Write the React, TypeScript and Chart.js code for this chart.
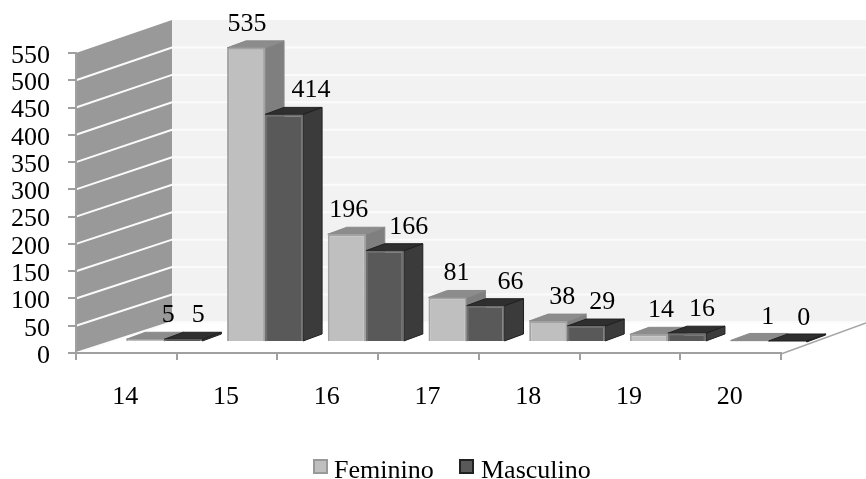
import React, { useEffect, useRef } from "react";
import { Chart, registerables } from "chart.js";

Chart.register(...registerables);

const categories = ["14", "15", "16", "17", "18", "19", "20"];
const feminino = [5, 535, 196, 81, 38, 14, 1];
const masculino = [5, 414, 166, 66, 29, 16, 0];
const seriesNames = ["Feminino", "Masculino"];
const yMax = 550;
const yStep = 50;

const FONT = '"Liberation Serif", "Times New Roman", serif';
const SIZE = 26;
// projection of the bar plane into the fake-3D room
const K = 1.008;
const BAR_DX = 38;
const BAR_DY = 342 - 353 * K;
const DEPTH_X = 19;
const DEPTH_Y = 7;
const BACK_X = 172;
const labelNudge = [
  [23, 15],
  [1, 27],
  [2, 24],
  [9, 25],
  [14, 16],
  [12, 15],
  [18, 16],
];
const styles = [
  { front: "#bfbfbf", border: "#a3a3a3", top: "#8c8c8c", side: "#7f7f7f", edge: "#8a8a8a" },
  { front: "#595959", border: "#6e6e6e", top: "#2f2f2f", side: "#3b3b3b", edge: "#1f1f1f" },
];

const poly = (ctx: CanvasRenderingContext2D, pts: number[][], fill: string, stroke?: string, lw = 1) => {
  ctx.beginPath();
  pts.forEach(([x, y], i) => (i ? ctx.lineTo(x, y) : ctx.moveTo(x, y)));
  ctx.closePath();
  ctx.fillStyle = fill;
  ctx.fill();
  if (stroke) {
    ctx.strokeStyle = stroke;
    ctx.lineWidth = lw;
    ctx.stroke();
  }
};

const room3d = {
  id: "room3d",
  beforeDraw(chart: any) {
    const { ctx, scales, chartArea, width } = chart;
    const y = scales.y;
    const left = chartArea.left;
    const right = chartArea.right;
    const yFront = (v: number) => y.getPixelForValue(v);
    const yBack = (v: number) => 322 - (322 - 20) * (v / yMax);
    ctx.save();
    // back wall
    poly(ctx, [[BACK_X, yBack(yMax)], [width, yBack(yMax)], [width, yBack(0)], [BACK_X, yBack(0)]], "#f2f2f2");
    // left wall
    poly(ctx, [[left, yFront(yMax)], [BACK_X, yBack(yMax)], [BACK_X, yBack(0)], [left, yFront(0)]], "#999999");
    ctx.strokeStyle = "#fbfbfb";
    ctx.lineWidth = 2;
    for (let v = 0; v < yMax; v += yStep) {
      ctx.beginPath();
      ctx.moveTo(left, yFront(v));
      ctx.lineTo(BACK_X, yBack(v));
      ctx.lineTo(width, yBack(v));
      ctx.stroke();
    }
    // floor edge on the right
    ctx.strokeStyle = "#a6a6a6";
    ctx.lineWidth = 1.5;
    ctx.beginPath();
    ctx.moveTo(right, yFront(0) + 1);
    ctx.lineTo(width, yBack(0) + 1);
    ctx.stroke();
    ctx.restore();
  },
  beforeDatasetsDraw(chart: any) {
    const { ctx } = chart;
    const px = (x: number) => x + BAR_DX;
    const py = (v: number) => K * v + BAR_DY;
    [0, 1].forEach((d) => {
      const s = styles[d];
      chart.getDatasetMeta(d).data.forEach((el: any) => {
        const l = px(el.x - el.width / 2);
        const r = px(el.x + el.width / 2);
        const t = py(el.y) - (el.y >= el.base - 1 ? 1 : 0);
        const b = py(el.base);
        poly(ctx, [[r, t], [r + DEPTH_X, t - DEPTH_Y], [r + DEPTH_X, b - DEPTH_Y], [r, b]], s.side, s.edge);
        poly(ctx, [[l, t], [l + DEPTH_X, t - DEPTH_Y], [r + DEPTH_X, t - DEPTH_Y], [r, t]], s.top, s.edge);
      });
    });
    ctx.save();
    ctx.transform(1, 0, 0, K, BAR_DX, BAR_DY);
  },
  afterDatasetsDraw(chart: any) {
    const { ctx } = chart;
    ctx.restore();
    ctx.save();
    ctx.font = `${SIZE}px ${FONT}`;
    ctx.fillStyle = "#000000";
    ctx.textAlign = "center";
    ctx.textBaseline = "alphabetic";
    [0, 1].forEach((d) => {
      const values = chart.data.datasets[d].data;
      chart.getDatasetMeta(d).data.forEach((el: any, i: number) => {
        const top = K * el.y + BAR_DY - DEPTH_Y;
        ctx.fillText(String(values[i]), el.x + BAR_DX + labelNudge[i][d], top - 10);
      });
    });
    ctx.restore();
  },
  afterDraw(chart: any) {
    const { ctx } = chart;
    ctx.save();
    ctx.font = `${SIZE}px ${FONT}`;
    ctx.textBaseline = "alphabetic";
    const boxes = [314, 460];
    const texts = [334, 481];
    seriesNames.forEach((name, i) => {
      ctx.fillStyle = styles[i].front;
      ctx.strokeStyle = i ? "#222222" : "#999999";
      ctx.lineWidth = 2;
      ctx.fillRect(boxes[i], 460, 13, 13);
      ctx.strokeRect(boxes[i], 460, 13, 13);
      ctx.fillStyle = "#000000";
      ctx.fillText(name, texts[i], 478);
    });
    ctx.restore();
  },
};

export default function App() {
  const ref = useRef<HTMLCanvasElement>(null);
  useEffect(() => {
    document.body.style.margin = "0";
    const chart = new Chart(ref.current!, {
      type: "bar",
      data: {
        labels: categories,
        datasets: [
          { label: seriesNames[0], data: feminino, backgroundColor: styles[0].front, borderColor: styles[0].border, borderWidth: 2 },
          { label: seriesNames[1], data: masculino, backgroundColor: styles[1].front, borderColor: styles[1].border, borderWidth: 2 },
        ],
      },
      options: {
        responsive: false,
        animation: false,
        layout: { padding: { top: 53, right: 85, left: 0, bottom: 0 } },
        datasets: { bar: { categoryPercentage: 0.755, barPercentage: 1 } },
        plugins: { legend: { display: false }, tooltip: { enabled: false } },
        scales: {
          x: {
            afterFit: (s: any) => { s.height = 126; },
            grid: { drawOnChartArea: false, color: "#a0a0a0", tickLength: 7, lineWidth: 2 },
            border: { color: "#a0a0a0", width: 2 },
            ticks: { font: { family: FONT, size: SIZE }, color: "#000000", padding: 22, maxRotation: 0, autoSkip: false, labelOffset: -1 },
          },
          y: {
            min: 0,
            max: yMax,
            afterFit: (s: any) => { s.width = 76; },
            grid: { drawOnChartArea: false, color: "#a0a0a0", tickLength: 8, lineWidth: 2 },
            border: { color: "#a0a0a0", width: 2 },
            ticks: { stepSize: yStep, font: { family: FONT, size: SIZE }, color: "#000000", padding: 18, autoSkip: false, labelOffset: 3 },
          },
        },
      },
      plugins: [room3d],
    } as any);
    return () => chart.destroy();
  }, []);
  return <canvas ref={ref} width={866} height={479} style={{ display: "block" }} />;
}
